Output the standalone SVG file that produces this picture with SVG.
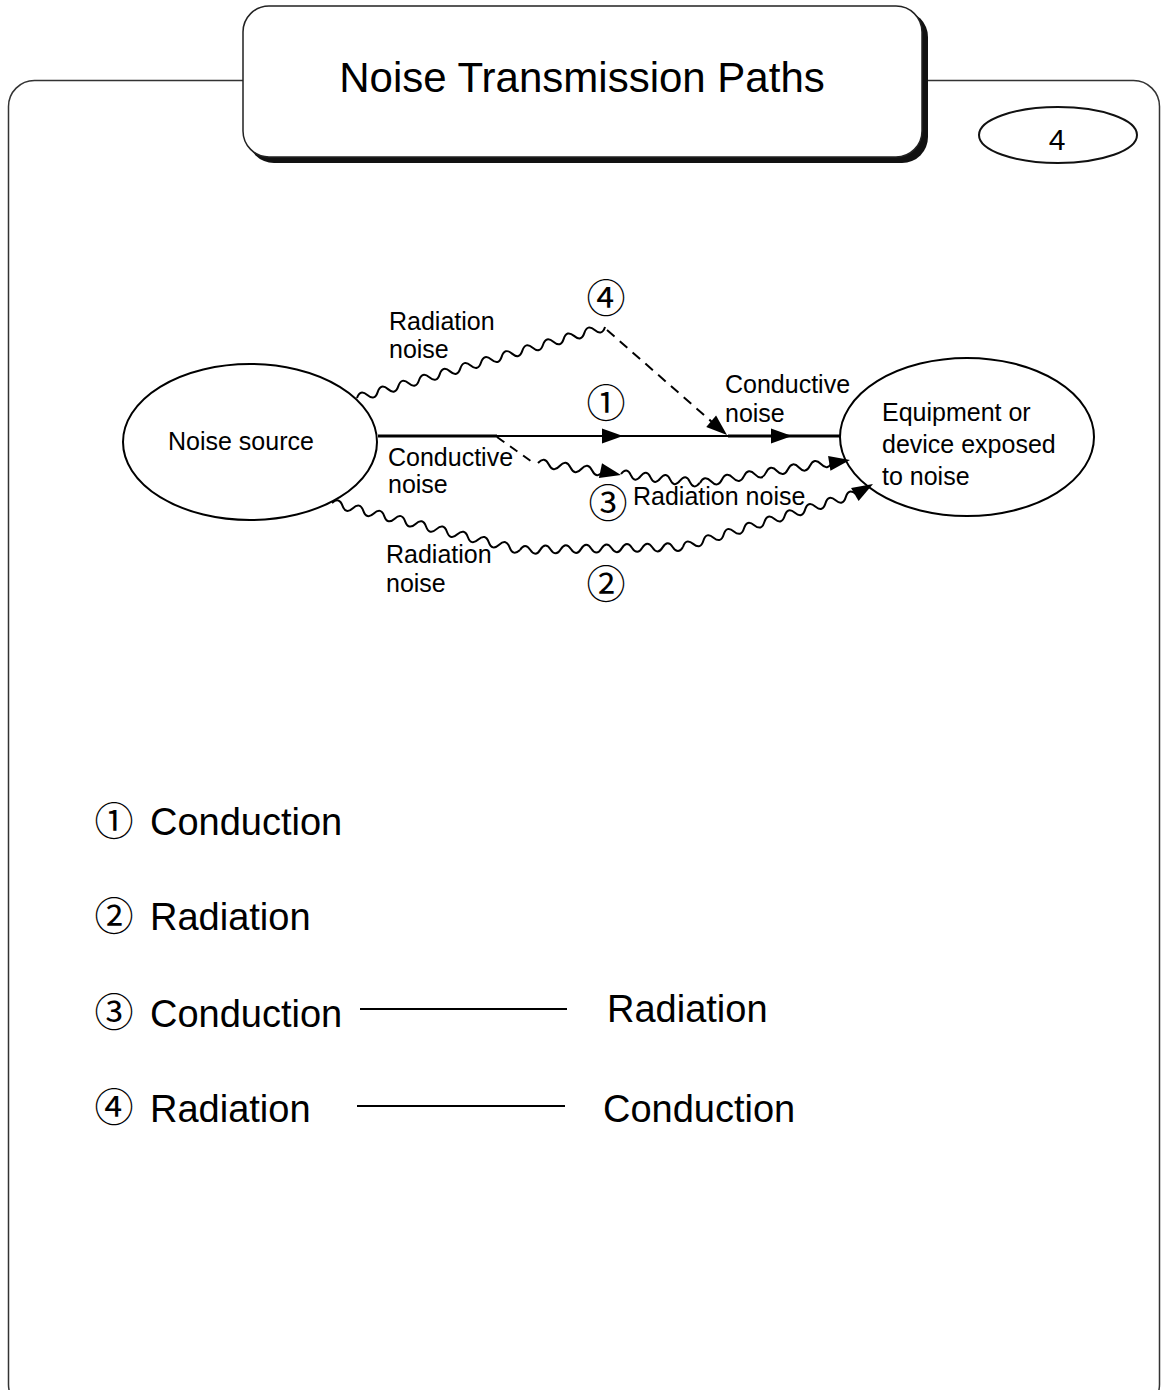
<svg xmlns="http://www.w3.org/2000/svg" xmlns:xlink="http://www.w3.org/1999/xlink" width="1161" height="1390" viewBox="0 0 1161 1390">
<style>
  .t{font-family:"Liberation Sans",Arial,sans-serif;fill:#000}
  .lbl{font-size:25px}
  .big{font-size:38px}
  .cd{font-family:"Noto Sans CJK JP","DejaVu Sans",sans-serif;font-size:39px;text-anchor:middle}
  .node{fill:#fff;stroke:#000;stroke-width:2}
  .wave{fill:none;stroke:#000;stroke-width:2}
  .ln{fill:none;stroke:#000}
</style>
<defs>
  <path id="head" d="M0,0 L-21,-7.5 L-21,7.5 Z" fill="#000"/>
</defs>
<rect x="0" y="0" width="1161" height="1390" fill="#fff"/>
<g id="frame">
  <rect x="8.5" y="80.5" width="1151" height="1330" rx="26" fill="none" stroke="#333" stroke-width="1.5"/>
</g>
<g id="title">
  <rect x="248" y="11" width="680" height="152" rx="26" fill="#111"/>
  <rect x="243" y="6" width="679" height="151" rx="26" fill="#fff" stroke="#222" stroke-width="1.5"/>
  <text class="t" x="582" y="92" font-size="42" text-anchor="middle" fill="#222">Noise Transmission Paths</text>
</g>
<g id="page-number">
  <ellipse cx="1058" cy="135" rx="79" ry="28" fill="#fff" stroke="#111" stroke-width="2"/>
  <text class="t" x="1057" y="150" font-size="30" text-anchor="middle" fill="#222">4</text>
</g>
<g id="noise-source">
  <ellipse class="node" cx="250" cy="442" rx="127" ry="78"/>
  <text class="t lbl" x="168" y="450">Noise source</text>
</g>
<g id="equipment">
  <ellipse class="node" cx="967" cy="437" rx="127" ry="79"/>
  <text class="t lbl" x="882" y="421">Equipment or</text>
  <text class="t lbl" x="882" y="453">device exposed</text>
  <text class="t lbl" x="882" y="485">to noise</text>
</g>
<g id="connectors">
  <!-- path 1: conduction -->
  <line class="ln" x1="378" y1="436" x2="497" y2="436" stroke-width="3"/>
  <line class="ln" x1="497" y1="436" x2="728" y2="436" stroke-width="2"/>
  <line class="ln" x1="728" y1="436" x2="840" y2="436" stroke-width="3"/>
  <use xlink:href="#head" transform="translate(623,436)"/>
  <use xlink:href="#head" transform="translate(792,436)"/>
  <!-- path 4: radiation then conduction -->
  <path class="wave" transform="translate(357,398) rotate(-15.97)" d="M0,0 q5.375,-8 10.75,0 t10.75,0 t10.75,0 t10.75,0 t10.75,0 t10.75,0 t10.75,0 t10.75,0 t10.75,0 t10.75,0 t10.75,0 t10.75,0 t10.75,0 t10.75,0 t10.75,0 t10.75,0 t10.75,0 t10.75,0 t10.75,0 t10.75,0 t10.75,0 t10.75,0 t10.75,0 t10.75,0"/>
  <line class="ln" x1="607" y1="330" x2="712" y2="422" stroke-width="2" stroke-dasharray="10 7"/>
  <use xlink:href="#head" transform="translate(727,435) rotate(41)"/>
  <!-- path 3: conduction then radiation -->
  <line class="ln" x1="497" y1="437" x2="535" y2="464" stroke-width="2" stroke-dasharray="9 7"/>
  <path class="wave" transform="translate(538,463) rotate(7.9)" d="M0,0 q5.47,-8 10.93,0 t10.93,0 t10.93,0 t10.93,0 t10.93,0 t10.93,0"/>
  <use xlink:href="#head" transform="translate(621,475) rotate(12)"/>
  <path class="wave" transform="translate(621,474) rotate(6.5)" d="M0,0 q4.95,-8 9.9,0 t9.9,0 t9.9,0 t9.9,0 t9.9,0 t9.9,0 t9.9,0 t9.9,0"/>
  <path class="wave" transform="translate(700,483) rotate(-8.9)" d="M0,0 q5.57,-8 11.13,0 t11.13,0 t11.13,0 t11.13,0 t11.13,0 t11.13,0 t11.13,0 t11.13,0 t11.13,0 t11.13,0 t11.13,0 t11.13,0"/>
  <use xlink:href="#head" transform="translate(850,460) rotate(-9)"/>
  <!-- path 2: radiation -->
  <path class="wave" transform="translate(332,503) rotate(14.04)" d="M0,0 q5.38,-8 10.77,0 t10.77,0 t10.77,0 t10.77,0 t10.77,0 t10.77,0 t10.77,0 t10.77,0 t10.77,0 t10.77,0 t10.77,0 t10.77,0 t10.77,0 t10.77,0 t10.77,0 t10.77,0 t10.77,0 t10.77,0"/>
  <path class="wave" transform="translate(520,550) rotate(-1.05)" d="M0,0 q5.1,-8 10.19,0 t10.19,0 t10.19,0 t10.19,0 t10.19,0 t10.19,0 t10.19,0 t10.19,0 t10.19,0 t10.19,0 t10.19,0 t10.19,0 t10.19,0 t10.19,0 t10.19,0 t10.19,0"/>
  <path class="wave" transform="translate(683,547) rotate(-17.03)" d="M0,0 q5.32,-8 10.64,0 t10.64,0 t10.64,0 t10.64,0 t10.64,0 t10.64,0 t10.64,0 t10.64,0 t10.64,0 t10.64,0 t10.64,0 t10.64,0 t10.64,0 t10.64,0 t10.64,0 t10.64,0 t10.64,0"/>
  <use xlink:href="#head" transform="translate(873,484) rotate(-30)"/>
</g>
<g id="labels">
  <text class="t lbl" x="389" y="330">Radiation</text>
  <text class="t lbl" x="389" y="358">noise</text>
  <text class="t lbl" x="388" y="466">Conductive</text>
  <text class="t lbl" x="388" y="493">noise</text>
  <text class="t lbl" x="386" y="563">Radiation</text>
  <text class="t lbl" x="386" y="592">noise</text>
  <text class="t lbl" x="725" y="393">Conductive</text>
  <text class="t lbl" x="725" y="422">noise</text>
  <text class="t lbl" x="633" y="505">Radiation noise</text>
  <text class="cd" x="606" y="312">④</text>
  <text class="cd" x="606" y="417">①</text>
  <text class="cd" x="608" y="517">③</text>
  <text class="cd" x="606" y="598">②</text>
</g>
<g id="legend">
  <text class="cd" x="114" y="835">①</text>
  <text class="t big" x="150" y="835">Conduction</text>
  <text class="cd" x="114" y="930">②</text>
  <text class="t big" x="150" y="930">Radiation</text>
  <text class="cd" x="114" y="1026">③</text>
  <text class="t big" x="150" y="1027">Conduction</text>
  <line class="ln" x1="360" y1="1009" x2="567" y2="1009" stroke-width="2"/>
  <text class="t big" x="607" y="1022">Radiation</text>
  <text class="cd" x="114" y="1121">④</text>
  <text class="t big" x="150" y="1122">Radiation</text>
  <line class="ln" x1="357" y1="1106" x2="565" y2="1106" stroke-width="2"/>
  <text class="t big" x="603" y="1122">Conduction</text>
</g>
</svg>
